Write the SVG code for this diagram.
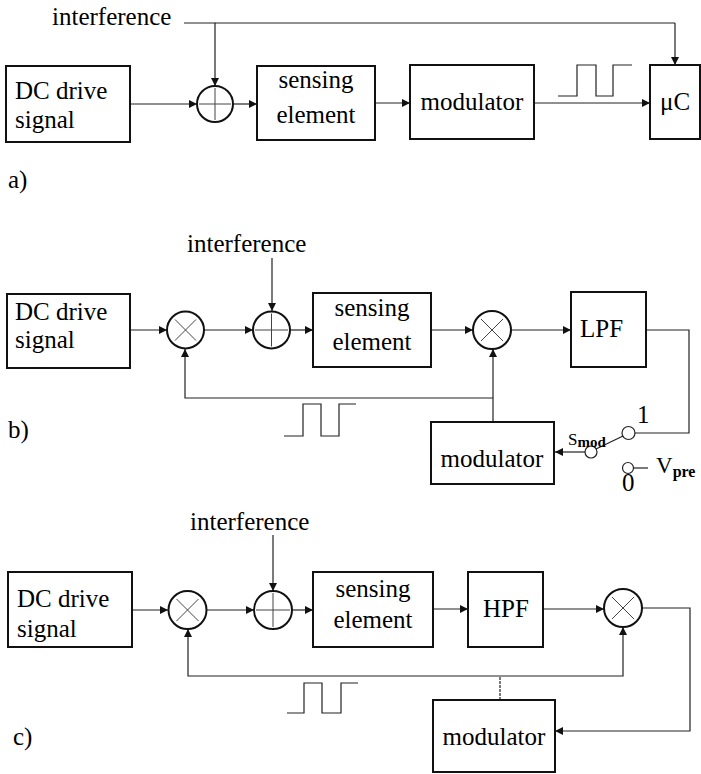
<svg xmlns="http://www.w3.org/2000/svg" width="701" height="774" viewBox="0 0 701 774" font-family="'Liberation Serif', 'Times New Roman', serif">
<defs>
<marker id="ah" markerUnits="userSpaceOnUse" markerWidth="9" markerHeight="9" refX="8" refY="4" orient="auto">
<path d="M0,0 L8,4 L0,8 z" fill="#111"/>
</marker>
<style>
.box{fill:#fff;stroke:#111;stroke-width:2}
.op{fill:#fff;stroke:#111;stroke-width:2}
.in{stroke:#444;stroke-width:1;fill:none}
.ln{stroke:#222;stroke-width:1.2;fill:none}
.ar{stroke:#222;stroke-width:1.2;fill:none;marker-end:url(#ah)}
.sw{fill:#fff;stroke:#222;stroke-width:1.2}
</style>
</defs>
<rect width="701" height="774" fill="#fff"/>

<g id="connectors">
<path class="ar" d="M130,104 H197"/>
<path class="ar" d="M184,23 H215 V86"/>
<path class="ln" d="M215,23 H675"/>
<path class="ar" d="M675,23 V65"/>
<path class="ar" d="M233,104 H257"/>
<path class="ar" d="M375,103 H410"/>
<path class="ar" d="M534,103 H650"/>
<path class="ln" d="M558,96 H577 V65 H596 V96 H613 V65 H632"/>
<path class="ar" d="M272,258 V311"/>
<path class="ar" d="M130,330 H167"/>
<path class="ar" d="M204,330 H253"/>
<path class="ar" d="M290,330 H313"/>
<path class="ar" d="M431,330 H473"/>
<path class="ar" d="M511,330 H571"/>
<path class="ln" d="M646,330 H689 V433 H634"/>
<path class="ar" d="M493,422 V349"/>
<path class="ar" d="M493,398 H185 V349"/>
<path class="ln" d="M284,436 H303 V404 H321 V436 H339 V404 H356"/>
<path class="ln" d="M596,449 L623,436"/>
<path class="ar" d="M585,452 H555"/>
<path class="ln" d="M634,468 H648"/>
<path class="ar" d="M273,535 V591"/>
<path class="ar" d="M132,610 H168"/>
<path class="ar" d="M207,610 H254"/>
<path class="ar" d="M292,610 H313"/>
<path class="ar" d="M433,609 H468"/>
<path class="ar" d="M543,609 H604"/>
<path class="ar" d="M642,608 H690 V731 H555"/>
<path class="ar" d="M500,676 H623 V627"/>
<path class="ar" d="M500,676 H188 V629"/>
<path class="ln" d="M500,700 V676" stroke-dasharray="3,1"/>
<path class="ln" d="M287,713 H304 V683 H322 V713 H341 V683 H358"/>
</g>

<text x="52" y="25" style="font-family:'Liberation Serif',serif;font-size:25px">interference</text>
<g id="a_dc"><rect class="box" x="6" y="66" width="124" height="76"/><text x="15" y="99" style="font-family:'Liberation Serif',serif;font-size:25px">DC drive</text><text x="15" y="128" style="font-family:'Liberation Serif',serif;font-size:25px">signal</text></g>
<g id="a_sum"><circle class="op" cx="215" cy="104" r="18"/><path class="in" d="M199,104 H231 M215,88 V120"/></g>
<g id="a_sens"><rect class="box" x="257" y="66" width="118" height="74"/><text x="316" y="88" text-anchor="middle" style="font-family:'Liberation Serif',serif;font-size:25px">sensing</text><text x="316" y="123" text-anchor="middle" style="font-family:'Liberation Serif',serif;font-size:25px">element</text></g>
<g id="a_mod"><rect class="box" x="410" y="65" width="124" height="74"/><text x="472" y="110" text-anchor="middle" style="font-family:'Liberation Serif',serif;font-size:25px">modulator</text></g>
<g id="a_uc"><rect class="box" x="650" y="65" width="50" height="74"/><text x="660" y="110" style="font-family:'Liberation Serif',serif;font-size:25px">μC</text></g>
<text x="8" y="188" style="font-family:'Liberation Serif',serif;font-size:25px">a)</text>

<text x="187" y="252" style="font-family:'Liberation Serif',serif;font-size:25px">interference</text>
<g id="b_dc"><rect class="box" x="7" y="294" width="123" height="74"/><text x="15" y="320" style="font-family:'Liberation Serif',serif;font-size:25px">DC drive</text><text x="15" y="348" style="font-family:'Liberation Serif',serif;font-size:25px">signal</text></g>
<g id="b_mul1"><circle class="op" cx="185.5" cy="330" r="18.5"/><path class="in" d="M175,319.5 L196,340.5 M196,319.5 L175,340.5"/></g>
<g id="b_sum"><circle class="op" cx="271.5" cy="330" r="18.5"/><path class="in" d="M255,330 H288 M271.5,313.5 V346.5"/></g>
<g id="b_sens"><rect class="box" x="313" y="293" width="118" height="74"/><text x="372" y="316" text-anchor="middle" style="font-family:'Liberation Serif',serif;font-size:25px">sensing</text><text x="372" y="350" text-anchor="middle" style="font-family:'Liberation Serif',serif;font-size:25px">element</text></g>
<g id="b_mul2"><circle class="op" cx="492" cy="330" r="19"/><path class="in" d="M481,319 L503,341 M503,319 L481,341"/></g>
<g id="b_lpf"><rect class="box" x="571" y="292" width="75" height="75"/><text x="580" y="337" style="font-family:'Liberation Serif',serif;font-size:25px">LPF</text></g>
<g id="b_mod"><rect class="box" x="431" y="422" width="123" height="62"/><text x="492" y="467" text-anchor="middle" style="font-family:'Liberation Serif',serif;font-size:25px">modulator</text></g>
<g id="b_switch">
<circle class="sw" cx="591" cy="452" r="6"/>
<circle class="sw" cx="628.5" cy="433" r="6.5"/>
<circle class="sw" cx="628" cy="468" r="5.5"/>
<text x="568" y="445" style="font-family:'Liberation Serif',serif;font-size:17px">S<tspan dy="2" style="font-weight:bold;font-size:15px">mod</tspan></text>
<text x="637" y="423" style="font-family:'Liberation Serif',serif;font-size:25px">1</text>
<text x="622" y="491" style="font-family:'Liberation Serif',serif;font-size:25px">0</text>
<text x="656" y="473" style="font-family:'Liberation Serif',serif;font-size:23px">V<tspan dy="4" style="font-weight:bold;font-size:16px">pre</tspan></text>
</g>
<text x="8" y="438" style="font-family:'Liberation Serif',serif;font-size:25px">b)</text>

<text x="190" y="530" style="font-family:'Liberation Serif',serif;font-size:25px">interference</text>
<g id="c_dc"><rect class="box" x="8" y="572" width="124" height="75"/><text x="17" y="607" style="font-family:'Liberation Serif',serif;font-size:25px">DC drive</text><text x="17" y="637" style="font-family:'Liberation Serif',serif;font-size:25px">signal</text></g>
<g id="c_mul1"><circle class="op" cx="187.5" cy="610" r="19"/><path class="in" d="M176.5,599 L198.5,621 M198.5,599 L176.5,621"/></g>
<g id="c_sum"><circle class="op" cx="273" cy="610" r="19"/><path class="in" d="M256,610 H290 M273,593 V627"/></g>
<g id="c_sens"><rect class="box" x="313" y="572" width="120" height="75"/><text x="373" y="597" text-anchor="middle" style="font-family:'Liberation Serif',serif;font-size:25px">sensing</text><text x="373" y="628" text-anchor="middle" style="font-family:'Liberation Serif',serif;font-size:25px">element</text></g>
<g id="c_hpf"><rect class="box" x="468" y="572" width="75" height="75"/><text x="483" y="617" style="font-family:'Liberation Serif',serif;font-size:25px">HPF</text></g>
<g id="c_mul2"><circle class="op" cx="623" cy="608" r="19"/><path class="in" d="M612,597 L634,619 M634,597 L612,619"/></g>
<g id="c_mod"><rect class="box" x="433" y="700" width="122" height="72"/><text x="494" y="745" text-anchor="middle" style="font-family:'Liberation Serif',serif;font-size:25px">modulator</text></g>
<text x="13" y="745" style="font-family:'Liberation Serif',serif;font-size:25px">c)</text>
</svg>
